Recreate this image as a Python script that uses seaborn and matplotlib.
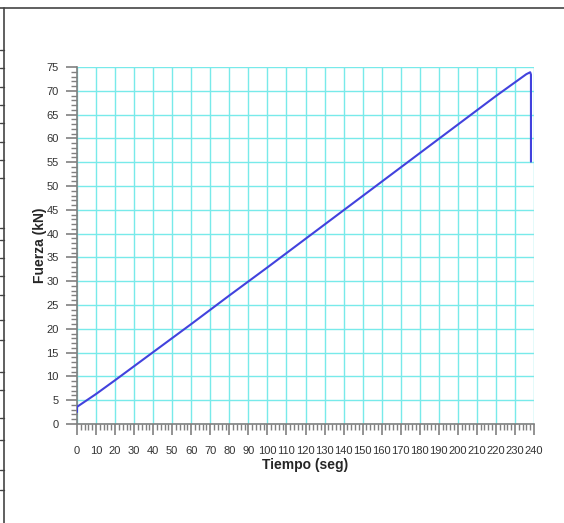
import numpy as np
import matplotlib
matplotlib.use("Agg")
import matplotlib.pyplot as plt
import seaborn as sns
from matplotlib.ticker import MultipleLocator
from matplotlib.lines import Line2D

tiempo = [0, 0, 10, 20, 40, 60, 80, 100, 120, 140, 160, 180, 200, 220, 236, 238, 238.4, 238.4]
fuerza = [2.5, 3.6, 6.3, 9.2, 15.1, 21.0, 27.0, 32.9, 38.9, 44.9, 50.9, 56.9, 62.9, 68.9, 73.5, 73.9, 73.4, 55.1]
x_ticks = list(range(0, 241, 10))
y_ticks = list(range(0, 76, 5))

sns.set_style("white")
plt.rcParams['font.family'] = ['Liberation Sans', 'DejaVu Sans']

fig = plt.figure(figsize=(5.64, 5.23), dpi=100)
ax = fig.add_axes([77 / 564, 1 - 424 / 523, 457 / 564, 357 / 523])

sns.lineplot(x=tiempo, y=fuerza, sort=False, estimator=None, color='#4242dd', linewidth=1.5, ax=ax, zorder=3)

ax.set_xlim(0, 240)
ax.set_ylim(0, 75)
ax.set_xticks(x_ticks)
ax.set_yticks(y_ticks)
ax.xaxis.set_minor_locator(MultipleLocator(2))
ax.yaxis.set_minor_locator(MultipleLocator(1))
ax.grid(True, which='major', color='#78eaea', linewidth=1.0, zorder=0)
ax.set_axisbelow(True)

for s in ['top', 'right']:
    ax.spines[s].set_visible(False)
for s in ['left', 'bottom']:
    ax.spines[s].set_color('#808080')
    ax.spines[s].set_linewidth(1.2)

ax.tick_params(which='major', direction='out', length=8, width=1.2, color='#808080',
               labelsize=8, labelcolor='#333333', pad=5, left=True, bottom=True)
ax.tick_params(axis='x', which='major', pad=8)
ax.tick_params(which='minor', direction='out', length=4, width=1.0, color='#808080', left=True, bottom=True)

ax.set_xlabel('Tiempo (seg)', fontsize=10, fontweight='bold', labelpad=1)
ax.set_ylabel('Fuerza (kN)', fontsize=10, fontweight='bold', labelpad=0)

# bordes de la pagina
fig.add_artist(Line2D([0, 1], [1 - 8 / 523, 1 - 8 / 523], color='#444444', linewidth=1.2))
fig.add_artist(Line2D([4 / 564, 4 / 564], [0, 1 - 8 / 523], color='#444444', linewidth=1.2))
for yy in [50, 68, 87, 105, 123, 142, 160, 178, 228, 240, 258, 276, 295, 320, 340, 372, 390, 418, 440, 470, 490]:
    fig.add_artist(Line2D([0, 4 / 564], [1 - yy / 523, 1 - yy / 523], color='#444444', linewidth=1.0))

fig.savefig('out.png', dpi=100)
